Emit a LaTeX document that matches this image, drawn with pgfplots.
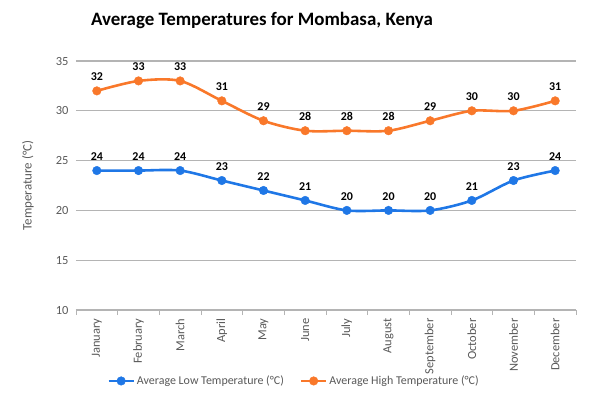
\documentclass[border=0pt]{standalone}
\usepackage{pgfplots}
\pgfplotsset{compat=1.18}
\usepackage{fontspec}
\setmainfont{Carlito}
\definecolor{lowc}{HTML}{1F77E6}
\definecolor{highc}{HTML}{F9782A}
\definecolor{gridc}{HTML}{B4B4B4}
\definecolor{txtc}{HTML}{595959}
\begin{document}
\begin{tikzpicture}
\useasboundingbox (0,0) rectangle (600bp,-399bp);
\node[font=\fontsize{19}{22}\selectfont\bfseries] at (262bp,-20bp) {Average Temperatures for Mombasa, Kenya};
\begin{axis}[
  at={(76bp,-310bp)}, anchor=south west,
  width=500bp, height=249bp, scale only axis,
  xmin=-0.5, xmax=11.5, ymin=10, ymax=35,
  xtick={-0.5,0.5,...,11.5},
  xticklabels={},
  major x tick style={gridc, line width=1pt},
  xtick pos=bottom, xtick align=outside, major tick length=5bp,
  extra x ticks={0,...,11},
  extra x tick labels={January,February,March,April,May,June,July,August,September,October,November,December},
  extra x tick style={major tick length=0pt, grid=none},
  ytick={10,15,...,35},
  ymajorgrids, grid style={gridc, line width=1.2pt},
  axis lines*=left,
  x axis line style={gridc, line width=1.2pt, -},
  y axis line style={draw=none},
  ytick style={draw=none},
  /pgf/number format/assume math mode=true,
  tick label style={font=\fontsize{12.5}{14}\selectfont, text=txtc},
  xticklabel style={rotate=90, anchor=east, xshift=-5bp},
  yticklabel style={xshift=-4bp},
  ylabel={Temperature (°C)},
  ylabel style={at={(axis description cs:-0.096,0.5)}, anchor=center, rotate=0, font=\fontsize{13}{15}\selectfont, text=txtc},
  nodes near coords,
  every node near coord/.append style={font=\fontsize{12}{14}\selectfont\bfseries, text=black, anchor=base, yshift=10bp, inner sep=0pt},
  legend columns=2,
  legend style={at={(axis description cs:0.436,-0.285)}, anchor=center, draw=none, font=\fontsize{12}{14}\selectfont, text=txtc, /tikz/every odd column/.append style={column sep=0bp}, /tikz/every even column/.append style={column sep=14bp}, inner sep=0pt},
  legend image code/.code={\draw[mark repeat=2, mark phase=2, #1] plot coordinates {(0bp,0bp) (12.5bp,0bp) (25bp,0bp)};},
  clip=false,
]
\addplot[lowc, line width=2.6pt, smooth, tension=0.5, mark=*, mark size=4.3bp, mark options={solid, fill=lowc, draw=lowc, line width=0.4pt}] coordinates {
(0,24) (1,24) (2,24) (3,23) (4,22) (5,21) (6,20) (7,20) (8,20) (9,21) (10,23) (11,24)};
\addlegendentry{Average Low Temperature (°C)}
\addplot[highc, line width=2.6pt, smooth, tension=0.5, mark=*, mark size=4.3bp, mark options={solid, fill=highc, draw=highc, line width=0.4pt}] coordinates {
(0,32) (1,33) (2,33) (3,31) (4,29) (5,28) (6,28) (7,28) (8,29) (9,30) (10,30) (11,31)};
\addlegendentry{Average High Temperature (°C)}
\end{axis}
\end{tikzpicture}
\end{document}
